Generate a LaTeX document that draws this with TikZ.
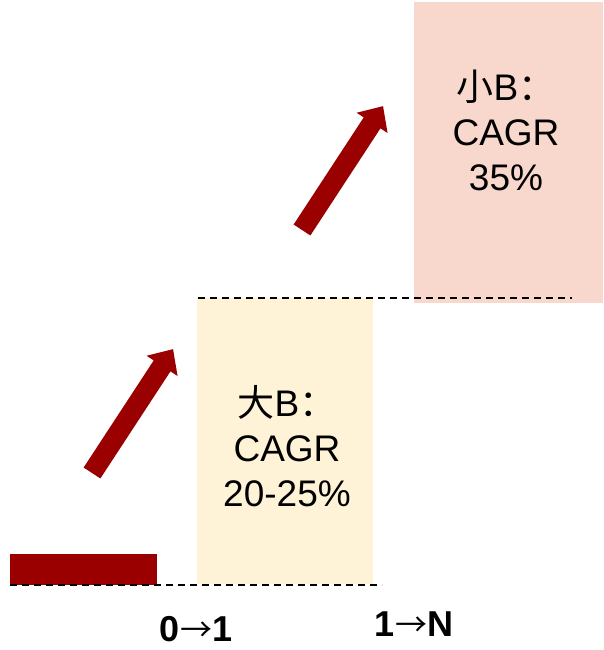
\documentclass[tikz,border=0pt]{standalone}
\usepackage{fontspec}
\setmainfont{Liberation Sans}
\newfontfamily\cjk{Noto Sans CJK SC}
\definecolor{pinkbox}{RGB}{248,216,204}
\definecolor{yellowbox}{RGB}{254,243,214}
\definecolor{darkred}{RGB}{155,0,0}
\tikzset{
  boxtext/.style={align=center, font=\fontsize{37}{45}\selectfont, inner sep=0pt},
  steplabel/.style={font=\fontsize{36}{40}\selectfont\bfseries, inner sep=0pt, anchor=base},
  guide/.style={draw=black, line width=2pt, dash pattern=on 7pt off 5pt},
  blockarrow/.style={fill=darkred, draw=none},
}
\newcommand{\blockarrowat}[2]{%
  \begin{scope}[shift={#1}, rotate=#2]
    \fill[blockarrow] (0,-10) -- (128,-10) -- (128,-18.5) -- (148,0) -- (128,18.5) -- (128,10) -- (0,10) -- cycle;
  \end{scope}}
\newcommand{\rarr}{{\cjk\fontsize{32}{36}\selectfont\mdseries →}}
\begin{document}
\begin{tikzpicture}[x=1pt,y=-1pt]
\useasboundingbox (0,0) rectangle (603,650);
% boxes
\fill[pinkbox] (414,2) rectangle (603,303);
\fill[yellowbox] (197,298) rectangle (373,584);
\fill[darkred] (10,554) rectangle (157,585);
% dashed guides
\coordinate (g1a) at (198,298);
\coordinate (g1b) at (572,298);
\coordinate (g2a) at (10,585);
\coordinate (g2b) at (382,585);
\draw[guide] (g1a) -- (g1b);
\draw[guide] (g2a) -- (g2b);
% arrows
\coordinate (a1) at (92,473);
\coordinate (a2) at (302,230);
\blockarrowat{(a1)}{56.8}
\blockarrowat{(a2)}{56.8}
% texts
\node[boxtext] (small) at (506,130) {{\cjk 小}B{\cjk ：}\\CAGR\\35\%};
\node[boxtext] (big) at (287,446) {{\cjk 大}B{\cjk ：}\\CAGR\\20-25\%};
\node[steplabel] (s01) at (196,641) {0\rarr1};
\node[steplabel] (s1n) at (414,636) {1\rarr N};
\end{tikzpicture}
\end{document}
